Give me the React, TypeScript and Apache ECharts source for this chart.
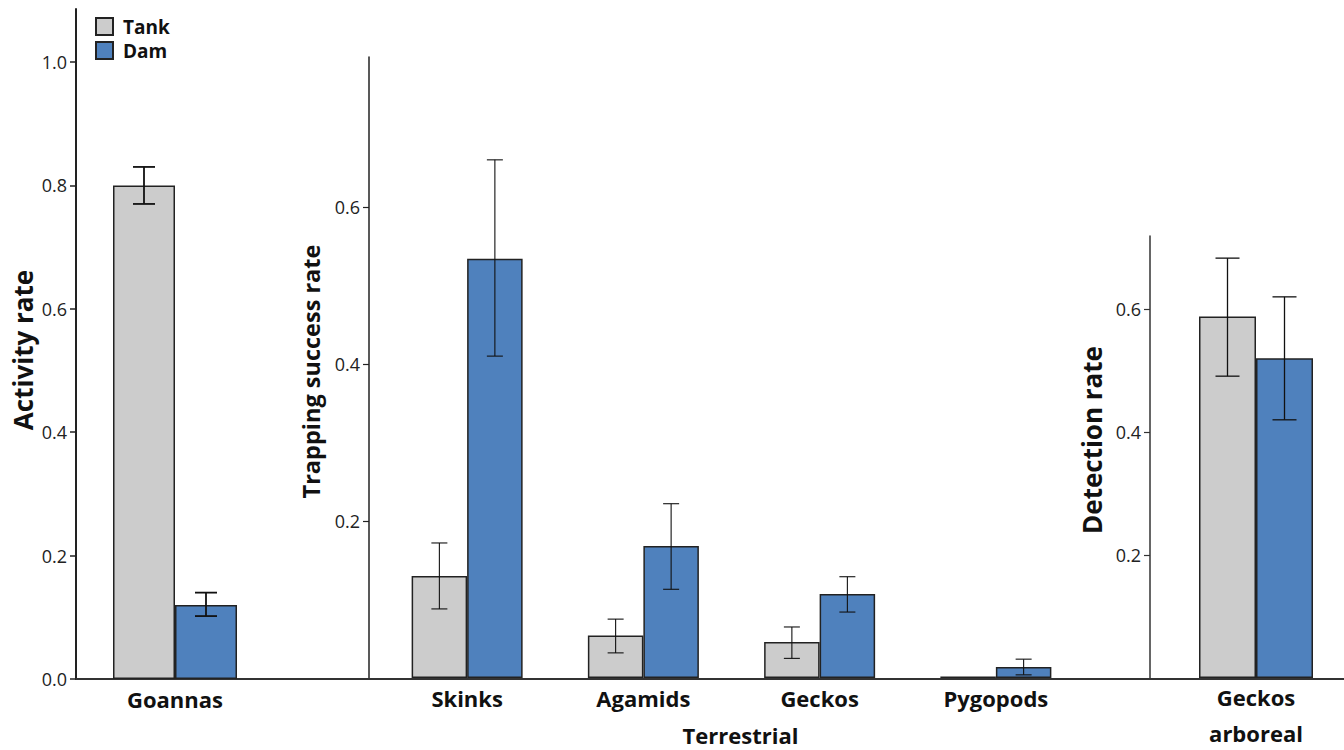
import React, { useEffect, useRef } from "react";
import * as echarts from "echarts";

const seriesNames = ["Tank", "Dam"];

const leftCategories = ["Goannas"];
const leftTank = [0.8];
const leftTankLow = [0.77];
const leftTankHigh = [0.83];
const leftDam = [0.12];
const leftDamLow = [0.102];
const leftDamHigh = [0.14];
const leftTicks = [0, 0.2, 0.4, 0.6, 0.8, 1.0];

const midCategories = ["Skinks", "Agamids", "Geckos", "Pygopods"];
const midTank = [0.13, 0.054, 0.046, 0.002];
const midTankLow = [0.088, 0.032, 0.025, null];
const midTankHigh = [0.172, 0.075, 0.065, null];
const midDam = [0.534, 0.168, 0.107, 0.014];
const midDamLow = [0.41, 0.113, 0.084, 0.004];
const midDamHigh = [0.66, 0.222, 0.129, 0.024];
const midTicks = [0.2, 0.4, 0.6];

const rightCategories = ["Geckos\narboreal"];
const rightTank = [0.588];
const rightTankLow = [0.491];
const rightTankHigh = [0.683];
const rightDam = [0.52];
const rightDamLow = [0.42];
const rightDamHigh = [0.62];
const rightTicks = [0.2, 0.4, 0.6];

const TANK_COLOR = "#cccccc";
const DAM_COLOR = "#4f81bd";
const FONT = "'Open Sans', 'Noto Sans', sans-serif";

function errData(low: (number | null)[], high: (number | null)[]) {
  const out: any[] = [];
  low.forEach((l, i) => {
    const h = high[i];
    if (l != null && h != null) out.push([i, l, h]);
  });
  return out;
}

function makeErrRender(offset: number, cap: number, lw: number) {
  return (params: any, api: any) => {
    const idx = api.value(0);
    const lo = api.coord([idx, api.value(1)]);
    const hi = api.coord([idx, api.value(2)]);
    const x = lo[0] + offset;
    const style = { stroke: "#111", lineWidth: lw };
    return {
      type: "group",
      children: [
        { type: "line", shape: { x1: x, y1: lo[1], x2: x, y2: hi[1] }, style },
        { type: "line", shape: { x1: x - cap / 2, y1: lo[1], x2: x + cap / 2, y2: lo[1] }, style },
        { type: "line", shape: { x1: x - cap / 2, y1: hi[1], x2: x + cap / 2, y2: hi[1] }, style },
      ],
    };
  };
}

export default function App() {
  const ref = useRef<HTMLDivElement>(null);

  useEffect(() => {
    document.body.style.margin = "0";
    if (!ref.current) return;
    const chart = echarts.init(ref.current, undefined, { renderer: "svg" });

    const yLabel = { color: "#222", fontSize: 18, fontFamily: FONT, margin: 9 };
    const yName = { color: "#111", fontSize: 26, fontWeight: "bold" as const, fontFamily: FONT };
    const xLabel = { color: "#111", fontSize: 22, fontWeight: "bold" as const, fontFamily: FONT, margin: 1, lineHeight: 37 };
    const barBorder = { borderColor: "#222", borderWidth: 1.5 };

    const leftBarW = 62;
    const midBarW = 55.5;
    const rightBarW = 57;

    const option: any = {
      animation: false,
      backgroundColor: "#ffffff",
      textStyle: { fontFamily: FONT },
      legend: {
        data: seriesNames,
        orient: "vertical",
        left: 90,
        top: 12,
        itemWidth: 17,
        itemHeight: 17,
        itemGap: 5,
        icon: "rect",
        textStyle: { color: "#111", fontSize: 19, fontWeight: "bold", fontFamily: FONT, padding: [0, 0, 0, 5] },
      },
      grid: [
        { left: 76, top: 9, width: 198, height: 670, outerBoundsMode: "none", containLabel: false },
        { left: 379, top: 57, width: 705, height: 621, outerBoundsMode: "none", containLabel: false },
        { left: 1168, top: 236, width: 176, height: 442, outerBoundsMode: "none", containLabel: false },
        { left: 76, top: 677, width: 1268, height: 2, outerBoundsMode: "none", containLabel: false },
      ],
      xAxis: [
        {
          gridIndex: 0,
          type: "category",
          data: leftCategories,
          axisLine: { show: false },
          axisTick: { show: false },
          axisLabel: xLabel,
        },
        {
          gridIndex: 1,
          type: "category",
          data: midCategories,
          axisLine: { show: false },
          axisTick: { show: false },
          axisLabel: xLabel,
          name: "Terrestrial",
          nameLocation: "middle",
          nameGap: 46,
          nameTextStyle: { color: "#111", fontSize: 22, fontWeight: "bold", fontFamily: FONT, padding: [0, 0, 0, 18] },
        },
        {
          gridIndex: 2,
          type: "category",
          data: rightCategories,
          axisLine: { show: false },
          axisTick: { show: false },
          axisLabel: { ...xLabel, lineHeight: 36 },
        },
        {
          gridIndex: 3,
          type: "value",
          min: 0,
          max: 1,
          position: "bottom",
          axisLine: { show: true, lineStyle: { color: "#333", width: 2 } },
          axisTick: { show: false },
          axisLabel: { show: false },
          splitLine: { show: false },
        },
      ],
      yAxis: [
        {
          gridIndex: 0,
          type: "value",
          min: 0,
          max: 1.086,
          axisLine: { show: true, lineStyle: { color: "#222", width: 2 } },
          axisTick: { show: true, length: 6, lineStyle: { color: "#222", width: 1.5 }, customValues: leftTicks },
          axisLabel: { ...yLabel, customValues: leftTicks, formatter: (v: number) => v.toFixed(1) },
          splitLine: { show: false },
          name: "Activity rate",
          nameLocation: "middle",
          nameGap: 40,
          nameTextStyle: { ...yName, padding: [0, 12, 0, 0] },
        },
        {
          gridIndex: 1,
          type: "value",
          min: 0,
          max: 0.791,
          offset: 10,
          axisLine: { show: true, lineStyle: { color: "#222", width: 1.5 } },
          axisTick: { show: true, length: 6, lineStyle: { color: "#222", width: 1.2 }, customValues: midTicks },
          axisLabel: { ...yLabel, customValues: midTicks, formatter: (v: number) => v.toFixed(1) },
          splitLine: { show: false },
          name: "Trapping success rate",
          nameLocation: "middle",
          nameGap: 46,
          nameTextStyle: { ...yName, fontSize: 23.5, padding: [0, 8, 0, 0] },
        },
        {
          gridIndex: 2,
          type: "value",
          min: 0,
          max: 0.719,
          offset: 18,
          axisLine: { show: true, lineStyle: { color: "#333", width: 1.5 } },
          axisTick: { show: true, length: 6, lineStyle: { color: "#333", width: 1.2 }, customValues: rightTicks },
          axisLabel: { ...yLabel, customValues: rightTicks, formatter: (v: number) => v.toFixed(1) },
          splitLine: { show: false },
          name: "Detection rate",
          nameLocation: "middle",
          nameGap: 45,
          nameTextStyle: { ...yName, padding: [0, 0, 0, 34] },
        },
        {
          gridIndex: 3,
          type: "value",
          show: false,
        },
      ],
      series: [
        {
          name: "Tank", type: "bar", xAxisIndex: 0, yAxisIndex: 0, data: leftTank,
          barWidth: leftBarW, barGap: "0%", itemStyle: { color: TANK_COLOR, ...barBorder },
        },
        {
          name: "Dam", type: "bar", xAxisIndex: 0, yAxisIndex: 0, data: leftDam,
          barWidth: leftBarW, barGap: "0%", itemStyle: { color: DAM_COLOR, ...barBorder },
        },
        {
          name: "Tank", type: "bar", xAxisIndex: 1, yAxisIndex: 1, data: midTank,
          barWidth: midBarW, barGap: "0%", itemStyle: { color: TANK_COLOR, ...barBorder },
        },
        {
          name: "Dam", type: "bar", xAxisIndex: 1, yAxisIndex: 1, data: midDam,
          barWidth: midBarW, barGap: "0%", itemStyle: { color: DAM_COLOR, ...barBorder },
        },
        {
          name: "Tank", type: "bar", xAxisIndex: 2, yAxisIndex: 2, data: rightTank,
          barWidth: rightBarW, barGap: "0%", itemStyle: { color: TANK_COLOR, ...barBorder },
        },
        {
          name: "Dam", type: "bar", xAxisIndex: 2, yAxisIndex: 2, data: rightDam,
          barWidth: rightBarW, barGap: "0%", itemStyle: { color: DAM_COLOR, ...barBorder },
        },
        {
          type: "custom", xAxisIndex: 0, yAxisIndex: 0, z: 10,
          data: errData(leftTankLow, leftTankHigh), encode: { x: 0, y: [1, 2] },
          renderItem: makeErrRender(-leftBarW / 2, 22, 1.8),
        },
        {
          type: "custom", xAxisIndex: 0, yAxisIndex: 0, z: 10,
          data: errData(leftDamLow, leftDamHigh), encode: { x: 0, y: [1, 2] },
          renderItem: makeErrRender(leftBarW / 2, 22, 1.8),
        },
        {
          type: "custom", xAxisIndex: 1, yAxisIndex: 1, z: 10,
          data: errData(midTankLow, midTankHigh), encode: { x: 0, y: [1, 2] },
          renderItem: makeErrRender(-midBarW / 2, 16, 1.1),
        },
        {
          type: "custom", xAxisIndex: 1, yAxisIndex: 1, z: 10,
          data: errData(midDamLow, midDamHigh), encode: { x: 0, y: [1, 2] },
          renderItem: makeErrRender(midBarW / 2, 16, 1.1),
        },
        {
          type: "custom", xAxisIndex: 2, yAxisIndex: 2, z: 10,
          data: errData(rightTankLow, rightTankHigh), encode: { x: 0, y: [1, 2] },
          renderItem: makeErrRender(-rightBarW / 2, 24, 1.3),
        },
        {
          type: "custom", xAxisIndex: 2, yAxisIndex: 2, z: 10,
          data: errData(rightDamLow, rightDamHigh), encode: { x: 0, y: [1, 2] },
          renderItem: makeErrRender(rightBarW / 2, 24, 1.3),
        },
      ],
    };

    chart.setOption(option);
    return () => chart.dispose();
  }, []);

  return <div ref={ref} style={{ width: 1344, height: 750 }} />;
}
